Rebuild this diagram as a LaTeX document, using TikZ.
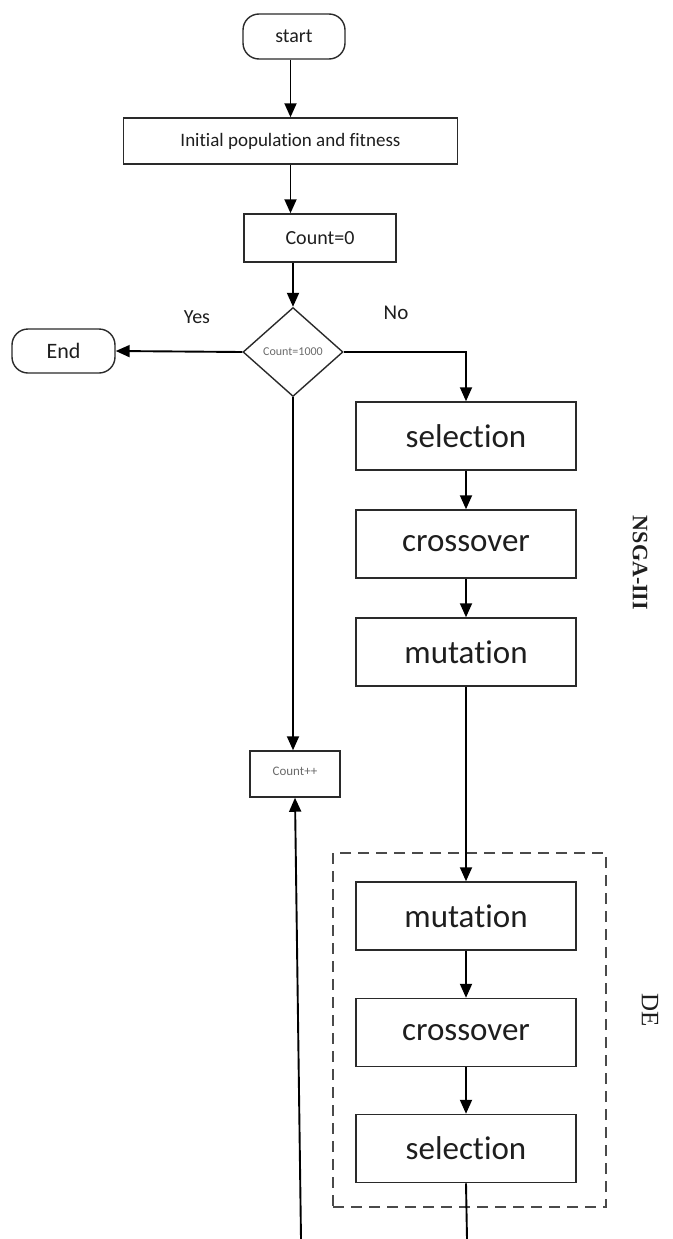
\documentclass[tikz,border=0pt]{standalone}
\usepackage{fontspec}
\setmainfont[RawFeature={-liga}]{Carlito}
\newfontfamily\tnr{Liberation Serif}
\usetikzlibrary{arrows.meta,shapes.geometric}

\definecolor{ink}{HTML}{1E1E1E}
\definecolor{edge}{HTML}{2A2A2A}
\definecolor{faint}{HTML}{6A6A6A}

\tikzset{
  stepbox/.style={draw=edge, line width=1.5pt, rectangle, inner sep=0pt, text=ink},
  bigbox/.style={stepbox, minimum width=220pt, minimum height=68pt, font=\fontsize{33}{36}\selectfont},
  terminal/.style={draw=edge, line width=1.4pt, rounded corners=16pt, inner sep=0pt, text=ink},
  decision/.style={draw=edge, line width=1.4pt, diamond, inner sep=0pt, aspect=1.12,
    minimum width=100pt, minimum height=89pt, text=faint, font=\fontsize{12}{14}\selectfont},
  flow/.style={line width=1.9pt, -{Triangle[length=14pt,width=12pt]}},
  plain/.style={line width=1.9pt},
  groupbox/.style={draw=edge!85, line width=2.2pt, dash pattern=on 11pt off 7pt, inner sep=0pt},
  sidelabel/.style={rotate=-90, text=ink}
}

\begin{document}
\begin{tikzpicture}[x=1pt, y=-1pt]
\useasboundingbox (0,0) rectangle (672,1239);

% main sequence
\node[terminal, minimum width=102pt, minimum height=45pt, font=\fontsize{20}{22}\selectfont] (start) at (294,36.5) {start};
\node[stepbox, minimum width=334pt, minimum height=46pt, font=\fontsize{19}{22}\selectfont] (init) at (290.5,141) {Initial population and fitness};
\node[stepbox, minimum width=152pt, minimum height=48pt, font=\fontsize{20}{22}\selectfont] (cnt) at (320,238) {Count=0};
\node[decision] (dec) at (293,352) {Count=1000};
\node[terminal, minimum width=103pt, minimum height=44pt, font=\fontsize{22}{24}\selectfont] (end) at (63.5,351) {End};
\node[stepbox, minimum width=90pt, minimum height=46pt, text=faint, font=\fontsize{13}{15}\selectfont] (cinc) at (295,774) {\raisebox{5pt}{Count++}};

% branch labels
\node[text=ink, font=\fontsize{20}{22}\selectfont] (yes) at (197,317) {Yes};
\node[text=ink, font=\fontsize{21}{23}\selectfont] (no) at (396,313) {No};

% NSGA-III operators
\node[bigbox] (sel1) at (466,436) {selection};
\node[bigbox] (cro1) at (466,544) {crossover};
\node[bigbox] (mut1) at (466,652) {mutation};
\node[sidelabel, font=\tnr\bfseries\fontsize{22}{24}\selectfont] (nsga) at (640,563) {NSGA-III};

% DE operators
\node[groupbox, minimum width=273pt, minimum height=354pt] (degroup) at (469.5,1030) {};
\node[bigbox] (mut2) at (466,916) {mutation};
\node[bigbox] (cro2) at (466,1032.5) {crossover};
\node[bigbox] (sel2) at (466,1148.5) {selection};
\node[sidelabel, font=\tnr\fontsize{25}{27}\selectfont] (delabel) at (650,1010) {DE};

% loose ends at the lower border
\coordinate (outdown) at (467,1239);
\coordinate (backup) at (301,1239);

% connectors
\draw[flow] (init.north |- start.south) -- (init.north);
\draw[flow] (init.south) -- (init.south |- cnt.north);
\draw[flow] (dec.north |- cnt.south) -- (dec.north);
\draw[flow] (dec.west) -- (end.east);
\draw[flow] (dec.east) -| (sel1.north);
\draw[flow] (sel1) -- (cro1);
\draw[flow] (cro1) -- (mut1);
\draw[flow] (mut1) -- (mut2);
\draw[flow] (mut2) -- (cro2);
\draw[flow] (cro2) -- (sel2);
\draw[plain] (sel2.south) -- (outdown);
\draw[flow] (dec.south) -- (dec.south |- cinc.north);
\draw[flow] (backup) -- (cinc.south);
\end{tikzpicture}
\end{document}
